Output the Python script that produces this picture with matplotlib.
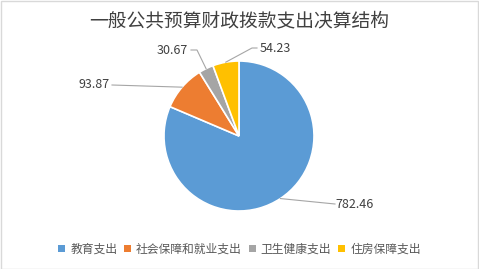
import matplotlib
matplotlib.use("Agg")
import matplotlib.pyplot as plt
from matplotlib.patches import Rectangle
import numpy as np

plt.rcParams['font.family'] = ['Noto Sans CJK SC', 'DejaVu Sans']

title = "一般公共预算财政拨款支出决算结构"
categories = ["教育支出", "社会保障和就业支出", "卫生健康支出", "住房保障支出"]
values = [782.46, 93.87, 30.67, 54.23]
labels = ["782.46", "93.87", "30.67", "54.23"]
colors = ["#5B9BD5", "#ED7D31", "#A5A5A5", "#FFC000"]

W, H = 479, 269
fig = plt.figure(figsize=(W / 100, H / 100), dpi=100)
fig.patches.append(Rectangle((0.5 / W, 0.5 / H), 1 - 1.5 / W, 1 - 1.5 / H, transform=fig.transFigure,
                             fill=False, edgecolor="#D9D9D9", linewidth=1))

cx, cy, r = 239, 136, 75
ax = fig.add_axes([(cx - r) / W, (H - cy - r) / H, 2 * r / W, 2 * r / H])
wedges, _ = ax.pie(values, colors=colors, startangle=90, counterclock=False, radius=1,
                   wedgeprops=dict(edgecolor="white", linewidth=1.2))
ax.set_xlim(-1, 1)
ax.set_ylim(-1, 1)
ax.set_aspect('equal')
ax.axis('off')

def px(x, y):
    return ((x - cx) / r, (cy - y) / r)

# label layouts: (elbow point, text anchor point, ha) in pixel coords
layouts = [
    ([(335, 204)], (335, 205), 'left'),
    ([(112, 85)], (110, 85), 'right'),
    ([(197, 50), (191, 50)], (188, 50), 'right'),
    ([(252, 48), (257, 48)], (260, 49), 'left'),
]
total = sum(values)
start = 90.0
for w, lab, (pts, tpos, ha) in zip(wedges, labels, layouts):
    mid = np.deg2rad((w.theta1 + w.theta2) / 2)
    ex, ey = np.cos(mid), np.sin(mid)
    xs = [ex] + [px(*p)[0] for p in pts]
    ys = [ey] + [px(*p)[1] for p in pts]
    ax.plot(xs, ys, color="#A6A6A6", lw=0.8, clip_on=False)
    tx, ty = px(*tpos)
    ax.text(tx, ty, lab, ha=ha, va='center', fontsize=9, color="#404040", clip_on=False)

fig.text(0.5, 1 - 21 / H, title, ha='center', va='center', fontsize=13.5, color="#404040")

handles = [Rectangle((0, 0), 1, 1, facecolor=c) for c in colors]
fig.legend(handles, categories, loc='center', bbox_to_anchor=(0.5, 1 - 249 / H), ncol=4,
           frameon=False, fontsize=8.5, labelcolor="#595959", handlelength=0.6, handleheight=0.6,
           handletextpad=0.4, columnspacing=0.6)

fig.savefig("out.png", dpi=100)
